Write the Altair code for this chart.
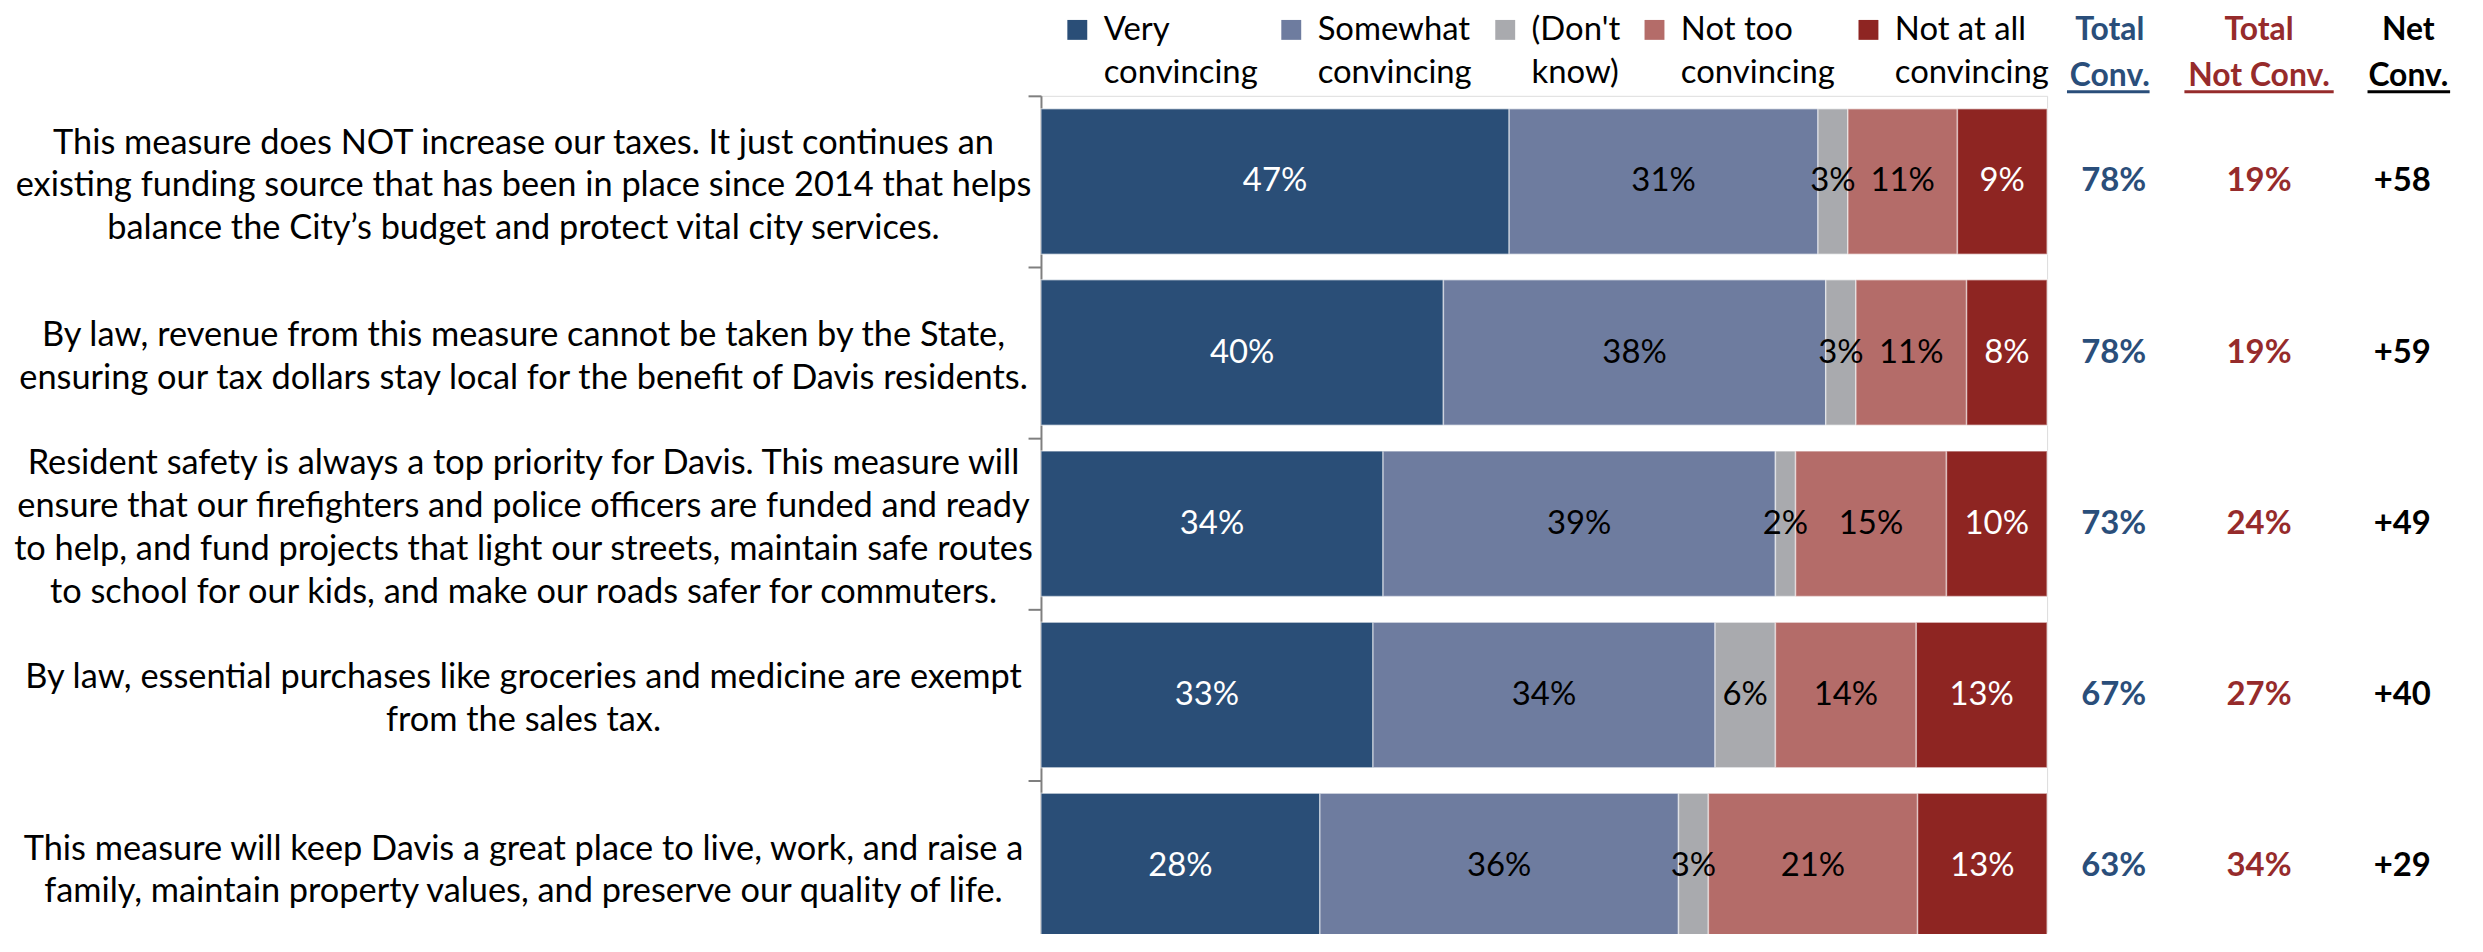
import altair as alt
import pandas as pd

qids = ["Q1", "Q2", "Q3", "Q4", "Q5"]
questions = [
    "This measure does NOT increase our taxes. It just continues an\nexisting funding source that has been in place since 2014 that helps\nbalance the City\u2019s budget and protect vital city services.",
    "By law, revenue from this measure cannot be taken by the State,\nensuring our tax dollars stay local for the benefit of Davis residents.",
    "Resident safety is always a top priority for Davis. This measure will\nensure that our firefighters and police officers are funded and ready\nto help, and fund projects that light our streets, maintain safe routes\nto school for our kids, and make our roads safer for commuters.",
    "By law, essential purchases like groceries and medicine are exempt\nfrom the sales tax.",
    "This measure will keep Davis a great place to live, work, and raise a\nfamily, maintain property values, and preserve our quality of life.",
]
categories = ["Very convincing", "Somewhat convincing", "(Don't know)",
              "Not too convincing", "Not at all convincing"]
very = [47, 40, 34, 33, 28]
somewhat = [31, 38, 39, 34, 36]
dont_know = [3, 3, 2, 6, 3]
not_too = [11, 11, 15, 14, 21]
not_at_all = [9, 8, 10, 13, 13]
total_conv = [78, 78, 73, 67, 63]
total_not_conv = [19, 19, 24, 27, 34]
net_conv = [58, 59, 49, 40, 29]

seg_colors = ["#2A4E77", "#6E7C9F", "#A9AAAE", "#B46C69", "#8E2522"]
seg_text_colors = ["white", "black", "black", "black", "white"]
FONT = "Lato"
LH = 43

series = [very, somewhat, dont_know, not_too, not_at_all]
rows = []
for ci, (cat, vals) in enumerate(zip(categories, series)):
    for qi, q in enumerate(qids):
        rows.append({"qid": q, "category": cat, "order": ci, "value": vals[qi]})
df = pd.DataFrame(rows)

qdf = pd.DataFrame({
    "qid": qids,
    "label": questions,
    "nlines": [q.count("\n") + 1 for q in questions],
    "tc": [f"{v}%" for v in total_conv],
    "tn": [f"{v}%" for v in total_not_conv],
    "net": [f"+{v}" for v in net_conv],
})

PAD_IN = 0.15
yenc = alt.Y(
    "qid:N", sort=qids, title=None,
    scale=alt.Scale(paddingInner=PAD_IN, paddingOuter=PAD_IN / 2, range=[0, 860]),
    axis=alt.Axis(labels=False, domainColor="#7F7F7F", domainWidth=2,
                  tickColor="#7F7F7F", tickWidth=2, tickSize=13,
                  bandPosition=-(PAD_IN / 2) / (1 - PAD_IN), grid=False),
)
xscale = alt.Scale(domain=[0, 1], nice=False)

stacked = alt.Chart(df).transform_stack(
    stack="value", groupby=["qid"], as_=["x0", "x1"],
    offset="normalize", sort=[alt.SortField("order")],
)

bars = stacked.mark_bar(stroke="white", strokeWidth=1.5, strokeOpacity=0.5).encode(
    x=alt.X("x0:Q", axis=None, scale=xscale),
    x2="x1:Q",
    y=yenc,
    color=alt.Color(
        "category:N",
        scale=alt.Scale(domain=categories, range=seg_colors),
        legend=alt.Legend(
            orient="none", legendX=20, legendY=-83, direction="horizontal",
            title=None, symbolType="square", symbolSize=400, symbolStrokeWidth=0,
            symbolOpacity=1, labelFont=FONT, labelFontSize=33, labelColor="black",
            labelOffset=10, columnPadding=17, labelLimit=500, padding=0,
            labelBaseline="middle",
            labelExpr="[substring(datum.label, 0, lastindexof(datum.label, ' ')), substring(datum.label, lastindexof(datum.label, ' ') + 1)]",
        ),
    ),
)

bar_labels = stacked.transform_calculate(
    xm="(datum.x0 + datum.x1) / 2", txt="datum.value + '%'"
).mark_text(font=FONT, fontSize=33, align="center", baseline="middle").encode(
    x=alt.X("xm:Q", axis=None, scale=xscale),
    y=yenc,
    text="txt:N",
    color=alt.Color("category:N", scale=alt.Scale(domain=categories, range=seg_text_colors), legend=None),
)

qbase = alt.Chart(qdf)
q_layers = []
for n in sorted(set(qdf["nlines"])):
    q_layers.append(
        qbase.transform_filter(f"datum.nlines == {n}").mark_text(
            font=FONT, fontSize=34.5, align="center", baseline="middle",
            lineBreak="\n", lineHeight=LH, color="black", dy=-(n - 1) * LH / 2 + 5,
        ).encode(y=yenc, x=alt.value(-520), text="label:N")
    )

C_BLUE = "#2A4E7A"
C_RED = "#962B2B"
col_tc = qbase.mark_text(font=FONT, fontSize=33, fontWeight="bold", color=C_BLUE).encode(
    y=yenc, x=alt.value(1078), text="tc:N")
col_tn = qbase.mark_text(font=FONT, fontSize=33, fontWeight="bold", color=C_RED).encode(
    y=yenc, x=alt.value(1224), text="tn:N")
col_net = qbase.mark_text(font=FONT, fontSize=33, fontWeight="bold", color="black").encode(
    y=yenc, x=alt.value(1368), text="net:N")

hdf = pd.DataFrame({"h": ["x"]})
def header(txt, x, color):
    return alt.Chart(hdf).mark_text(
        text=txt, font=FONT, fontSize=32, fontWeight="bold", color=color,
        align="center", baseline="middle", lineBreak="\n", lineHeight=46,
    ).encode(x=alt.value(x), y=alt.value(-66))

def underline(x1, x2, color):
    return alt.Chart(hdf).mark_rule(color=color, strokeWidth=3).encode(
        x=alt.value(x1), x2=alt.value(x2), y=alt.value(-4))

h1 = header("Total\nConv.", 1074, C_BLUE)
h2 = header("Total\nNot Conv.", 1224, C_RED)
h3 = header("Net\nConv.", 1374, "black")
u1 = underline(1031, 1114, C_BLUE)
u2 = underline(1149, 1299, C_RED)
u3 = underline(1333, 1416, "black")

chart = alt.layer(
    bars, bar_labels, *q_layers, col_tc, col_tn, col_net, h1, h2, h3, u1, u2, u3
).properties(
    width=1011, height=840,
    autosize=alt.AutoSizeParams(type="none"),
    padding={"left": 1038, "top": 86, "right": 430, "bottom": 0},
).configure_view(stroke=None).configure(
    style={"guide-label": {"lineHeight": LH}}
).resolve_scale(color="independent")

chart.save("out.html", embed_options={"renderer": "svg", "actions": False})
